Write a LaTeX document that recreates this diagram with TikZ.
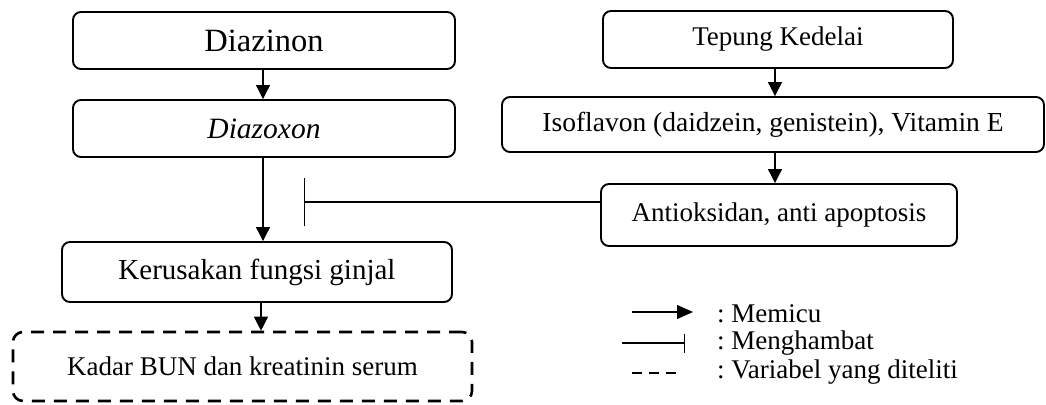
\documentclass[tikz,border=0pt]{standalone}
\usepackage{fontspec}
\setmainfont{Liberation Serif}
\usetikzlibrary{arrows.meta}
\frenchspacing
\begin{document}
\begin{tikzpicture}[x=1pt,y=-1pt,
  box/.style={draw, line width=1.9pt, rounded corners=8pt, inner sep=0pt},
  dbox/.style={draw, line width=2.6pt, rounded corners=10pt, dash pattern=on 13pt off 9pt, inner sep=0pt},
  txt/.style={font=\fontsize{27}{31}\selectfont},
  con/.style={line width=1.1pt},
  tip/.style={con, -{Triangle[length=14pt,width=14pt]}},
  bar/.style={con, -{Bar[width=48pt,line width=1.1pt]}},
]
\useasboundingbox (0,0) rectangle (1046,404);

% left column: exposure chain
\node[box, minimum width=382pt, minimum height=57pt, font=\fontsize{32.5}{36}\selectfont] (diazinon) at (264,40.5) {Diazinon};
\node[box, minimum width=382pt, minimum height=57pt, font=\fontsize{29.5}{33}\selectfont\itshape] (diazoxon) at (264,128.5) {Diazoxon};
\node[box, minimum width=390pt, minimum height=60pt, font=\fontsize{29}{33}\selectfont] (ginjal) at (257,272) {Kerusakan fungsi ginjal};
\node[dbox, txt, minimum width=459pt, minimum height=69pt] (kadar) at (242.5,366.5) {Kadar BUN dan kreatinin serum};

% right column: soy flour chain
\node[box, txt, minimum width=350pt, minimum height=57pt] (tepung) at (778,39.5) {Tepung Kedelai};
\node[box, minimum width=542pt, minimum height=55pt, font=\fontsize{27.5}{31}\selectfont] (isoflavon) at (773,124.5) {Isoflavon (daidzein, genistein), Vitamin E};
\node[box, txt, minimum width=356pt, minimum height=62pt] (antiok) at (779,215) {Antioksidan, anti apoptosis};

% connectors
\draw[tip] (diazinon.south -| 263,0) -- (diazoxon.north -| 263,0);
\draw[tip] (diazoxon.south -| 263,0) -- (ginjal.north -| 263,0);
\draw[tip] (ginjal.south -| 261,0) -- (kadar.north -| 261,0);
\draw[tip] (tepung.south -| 775,0) -- (isoflavon.north -| 775,0);
\draw[tip] (isoflavon.south -| 775,0) -- (antiok.north -| 775,0);
\coordinate (block) at (304,202);
\draw[bar] (antiok.west |- block) -- (block);

% legend
\coordinate (l1a) at (632,312); \coordinate (l1b) at (693,312);
\coordinate (l2a) at (622,343); \coordinate (l2b) at (685,343);
\coordinate (l3a) at (632,373); \coordinate (l3b) at (683,373);
\draw[con, -{Triangle[length=16pt,width=14pt]}] (l1a) -- (l1b);
\draw[con, -{Bar[width=19pt,line width=1.1pt]}] (l2a) -- (l2b);
\draw[line width=2.6pt, dash pattern=on 10pt off 7pt] (l3a) -- (l3b);
\node[txt, anchor=west, inner sep=0pt] (t1) at (717,314) {: Memicu};
\node[txt, anchor=west, inner sep=0pt] (t2) at (717,343) {: Menghambat};
\node[txt, anchor=west, inner sep=0pt] (t3) at (717,372) {: Variabel yang diteliti};
\end{tikzpicture}
\end{document}
